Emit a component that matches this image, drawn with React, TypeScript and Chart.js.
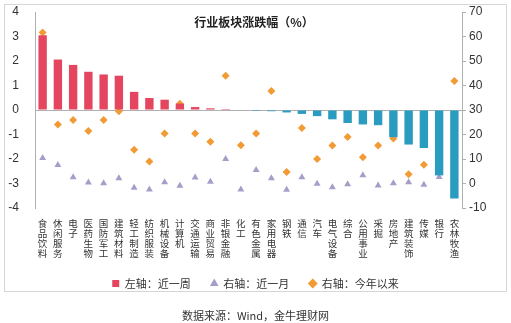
import React, { useEffect, useRef } from 'react';
import { Chart, registerables } from 'chart.js';

Chart.register(...registerables);

const categories = ['食品饮料', '休闲服务', '电子', '医药生物', '国防军工', '建筑材料', '轻工制造', '纺织服装', '机械设备', '计算机', '交通运输', '商业贸易', '非银金融', '化工', '有色金属', '家用电器', '钢铁', '通信', '汽车', '电气设备', '综合', '公用事业', '采掘', '房地产', '建筑装饰', '传媒', '银行', '农林牧渔'];

const weekly = [3.05, 2.06, 1.84, 1.56, 1.45, 1.4, 0.74, 0.49, 0.42, 0.26, 0.12, 0.07, 0.04, 0.02, -0.04, -0.05, -0.1, -0.16, -0.25, -0.38, -0.53, -0.59, -0.62, -1.11, -1.41, -1.55, -2.67, -3.61];

const monthly = [10.4, 7.6, 2.6, 0.4, 0.1, 2.1, -1.7, -2.4, 0.5, -0.9, 2.4, 0.7, 10.0, -2.4, 5.5, 2.1, -2.5, 2.6, -0.1, -1.5, -0.3, 3.4, -0.8, 0.1, 0.5, -0.5, 2.7, -1.8];

const ytd = [61.6, 24.1, 25.9, 21.4, 25.9, 29.5, 13.8, 9.0, 20.4, 32.6, 20.4, 17.0, 44.0, 15.6, 20.4, 37.8, 4.7, 22.7, 10.0, 15.5, 19.0, 10.7, 15.5, 18.4, 3.8, 7.7, 18.0, 41.8];

const seriesNames = ['左轴：近一周', '右轴：近一月', '右轴：今年以来'];
const chartTitle = '行业板块涨跌幅（%）';
const sourceText = '数据来源：Wind，金牛理财网';

const RED = '#e4465f';
const TEAL = '#2a9cc0';
const PURPLE = '#a69dc9';
const ORANGE = '#f29a33';
const AXIS = '#b0b0b0';
const CJK = '"Noto Sans CJK SC", sans-serif';
const NUM = '"Liberation Sans", Arial, sans-serif';

export default function App() {
  const ref = useRef<HTMLCanvasElement | null>(null);

  useEffect(() => {
    document.body.style.margin = '0';
    const canvas = ref.current;
    if (!canvas) return;

    const titlePlugin = {
      id: 'innerTitle',
      afterDraw(chart: any) {
        const ctx = chart.ctx;
        ctx.save();
        ctx.font = `bold 12px ${CJK}`;
        ctx.fillStyle = '#222';
        ctx.textAlign = 'center';
        ctx.textBaseline = 'middle';
        ctx.fillText(chartTitle, 254, 22);
        ctx.restore();
      },
    };

    const chart = new Chart(canvas, {
      type: 'bar',
      data: {
        labels: categories.map((c) => c.split('')),
        datasets: [
          {
            type: 'bar',
            label: seriesNames[0],
            data: weekly,
            yAxisID: 'y',
            backgroundColor: weekly.map((v) => (v >= 0 ? RED : TEAL)),
            borderWidth: 0,
            barPercentage: 0.55,
            categoryPercentage: 1,
            pointStyle: 'rect',
          } as any,
          {
            type: 'line',
            label: seriesNames[1],
            data: monthly,
            yAxisID: 'y1',
            showLine: false,
            pointStyle: 'triangle',
            pointRadius: 4,
            backgroundColor: PURPLE,
            borderColor: PURPLE,
            pointBorderWidth: 0,
          } as any,
          {
            type: 'line',
            label: seriesNames[2],
            data: ytd,
            yAxisID: 'y1',
            showLine: false,
            pointStyle: 'rectRot',
            pointRadius: 4,
            backgroundColor: ORANGE,
            borderColor: ORANGE,
            pointBorderWidth: 0,
          } as any,
        ],
      },
      options: {
        responsive: false,
        animation: false,
        layout: { padding: { top: 12, left: 0, right: 0, bottom: 24 } },
        plugins: {
          title: { display: false },
          tooltip: { enabled: false },
          legend: {
            display: true,
            position: 'bottom',
            labels: {
              usePointStyle: true,
              boxWidth: 7,
              boxHeight: 7,
              padding: 20,
              color: '#333',
              font: { family: CJK, size: 11 },
              sort: (a: any, b: any) => a.datasetIndex - b.datasetIndex,
            },
          },
        },
        scales: {
          x: {
            grid: { display: false, drawTicks: false },
            border: { display: false },
            ticks: {
              autoSkip: false,
              maxRotation: 0,
              minRotation: 0,
              padding: 10,
              color: '#333',
              font: { family: CJK, size: 9.5, lineHeight: '10px' },
            },
            afterFit: (s: any) => {
              s.height = 50;
            },
          },
          y: {
            position: 'left',
            min: -4,
            max: 4,
            ticks: {
              stepSize: 1,
              padding: 16,
              color: '#333',
              font: { family: NUM, size: 12 },
            },
            grid: {
              drawTicks: false,
              color: (ctx: any) => (ctx.tick && ctx.tick.value === 0 ? AXIS : 'rgba(0,0,0,0)'),
            },
            border: { display: true, color: AXIS },
            afterFit: (s: any) => {
              s.width = 35;
              s.paddingTop = 0;
              s.paddingBottom = 0;
            },
          },
          y1: {
            position: 'right',
            min: -10,
            max: 70,
            ticks: {
              stepSize: 10,
              padding: 3,
              color: '#333',
              font: { family: NUM, size: 12 },
            },
            grid: { drawOnChartArea: false, drawTicks: true, tickLength: 4, color: AXIS },
            border: { display: true, color: AXIS },
            afterFit: (s: any) => {
              s.width = 49;
              s.paddingTop = 0;
              s.paddingBottom = 0;
            },
          },
        },
      },
      plugins: [titlePlugin],
    });

    return () => chart.destroy();
  }, []);

  return (
    <div style={{ position: 'relative', width: 511, height: 323, overflow: 'hidden', background: '#fff' }}>
      <canvas ref={ref} width={511} height={323} style={{ position: 'absolute', left: 0, top: 0, width: 511, height: 323 }} />
      <div
        style={{
          position: 'absolute',
          left: 4,
          top: 4,
          width: 503,
          height: 288,
          border: '1px solid #d6d6d6',
          boxSizing: 'border-box',
          pointerEvents: 'none',
        }}
      />
      <div
        style={{
          position: 'absolute',
          left: 0,
          top: 307,
          width: 511,
          textAlign: 'center',
          fontFamily: CJK,
          fontSize: 11,
          lineHeight: '16px',
          color: '#333',
        }}
      >
        {sourceText}
      </div>
    </div>
  );
}
